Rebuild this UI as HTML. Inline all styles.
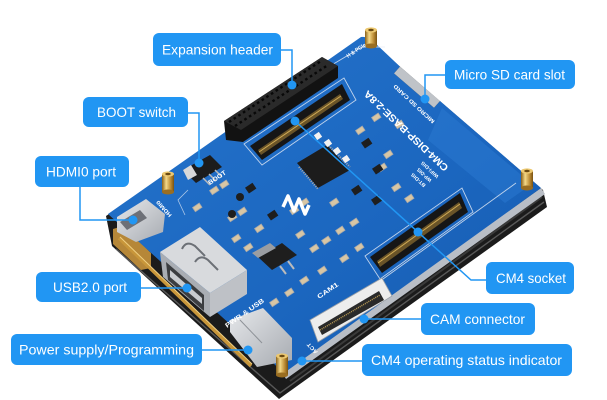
<!DOCTYPE html>
<html><head><meta charset="utf-8"><style>
html,body{margin:0;padding:0;background:#fff;}
svg{display:block;}
text{font-family:"Liberation Sans","DejaVu Sans",sans-serif;}
</style></head><body>
<svg width="607" height="400" viewBox="0 0 607 400" xmlns="http://www.w3.org/2000/svg">
<defs>
<linearGradient id="pcb" x1="0" y1="0" x2="1" y2="1">
<stop offset="0" stop-color="#2574cc"/>
<stop offset="0.6" stop-color="#1b66bf"/>
<stop offset="1" stop-color="#155aad"/>
</linearGradient>
<linearGradient id="gold" x1="0" y1="0" x2="1" y2="0">
<stop offset="0" stop-color="#8a6018"/><stop offset="0.35" stop-color="#f3d888"/><stop offset="0.7" stop-color="#c09038"/><stop offset="1" stop-color="#7a5210"/>
</linearGradient>
<linearGradient id="silv" x1="0" y1="0" x2="1" y2="1">
<stop offset="0" stop-color="#e6e8eb"/><stop offset="1" stop-color="#a7abb1"/>
</linearGradient>
</defs>
<rect width="607" height="400" fill="#fff"/>

<!-- display slab -->
<polygon points="106,216 112,246 279,399 547,207 543,190 368,39" fill="#1b1b1b"/>
<polyline points="116,249 280,393 544,202" fill="none" stroke="#585858" stroke-width="1.4"/>
<polyline points="290,381 542,197" fill="none" stroke="#3a3a3a" stroke-width="2"/>
<!-- gold flex + rod on left side -->
<polygon points="113,229 123,226 151,253 151,268 141,270 113,244" fill="#b68738"/>
<line x1="119" y1="238" x2="251" y2="366" stroke="#c8963a" stroke-width="3.5"/>
<line x1="120" y1="237" x2="252" y2="364" stroke="#f0cf80" stroke-width="1"/>

<!-- PCB edge (thickness) -->
<polygon points="541,188 545,194 286,379 282,372" fill="#b9bec6"/>
<!-- board -->
<path d="M361,37 Q368,36 374,42 L400,66.6 L394,73.4 L434,107.8 L440,101 L541,188 L284,373 L108,214 Z" fill="url(#pcb)"/>
<!-- SD notch metal -->
<polygon points="400,66.6 440,101 434,107.8 394,73.4" fill="#bfc3c8"/>
<!-- antenna area -->
<polygon points="442,108 532,184 505,203 428,140" fill="#2a78d0" opacity="0.55"/>

<!-- silkscreen lines -->
<polyline points="330,66 362,47 385,47" fill="none" stroke="#e8eef6" stroke-width="0.9" opacity="0.8"/>
<polyline points="516,183 383,279" fill="none" stroke="#e8eef6" stroke-width="0.9" opacity="0.8"/>
<polyline points="185,215 178,200 188,190" fill="none" stroke="#e8eef6" stroke-width="0.8" opacity="0.7"/>

<!-- header -->
<polygon points="224,121 322,57 338,66 338,78 243,142 226,140" fill="#121212"/>
<polygon points="224,121 322,57 338,66 241,130" fill="#2a2a2a"/>
<line x1="229" y1="122" x2="321" y2="61" stroke="#080808" stroke-width="2.4" stroke-dasharray="2.6 3"/>
<line x1="235" y1="126" x2="328" y2="65" stroke="#080808" stroke-width="2.4" stroke-dasharray="2.6 3"/>

<!-- socket 1 -->
<polygon points="244,144 344,78 356,100 262,165" fill="none" stroke="#e8eef6" stroke-width="0.9" opacity="0.8"/>
<polygon points="250,146 342,84 350,100 262,160" fill="#161616"/>
<polygon points="258,150 340,94 343,99 261,155" fill="#6a5428"/>
<line x1="259" y1="152" x2="341" y2="96" stroke="#d1ab55" stroke-width="1"/>

<!-- socket 2 -->
<polygon points="365,256 462,188 473,212 380,279" fill="none" stroke="#e8eef6" stroke-width="0.9" opacity="0.8"/>
<polygon points="370,257 460,193 468,212 382,273" fill="#161616"/>
<polygon points="377,261 459,202 462,208 380,267" fill="#6a5428"/>
<line x1="378" y1="263" x2="460" y2="204" stroke="#d1ab55" stroke-width="1"/>

<!-- CAM connector -->
<polygon points="310,320 382,278 392,296 318,342" fill="#ededed" stroke="#9aa0a8" stroke-width="0.8"/>
<polygon points="318,327 379,291 384,300 322,335" fill="#2a2a2a"/>
<line x1="320" y1="330" x2="380" y2="295" stroke="#b89a55" stroke-width="1.5" stroke-dasharray="1 1"/>

<!-- IC -->
<polygon points="297,163 327,145 350,170 318,188" fill="#1c1c1c"/>
<line x1="299" y1="167" x2="318" y2="189" stroke="#aaa" stroke-width="2" stroke-dasharray="1 1.3"/>
<line x1="327" y1="144" x2="350" y2="167" stroke="#aaa" stroke-width="2" stroke-dasharray="1 1.3"/>
<!-- white pads -->
<rect x="315" y="133" width="6" height="6" fill="#f2f2f2" transform="rotate(-34 318 136)"/>
<rect x="325" y="140" width="6" height="6" fill="#f2f2f2" transform="rotate(-34 328 143)"/>
<rect x="334" y="148" width="6" height="6" fill="#f2f2f2" transform="rotate(-34 337 151)"/>
<rect x="343" y="156" width="6" height="6" fill="#f2f2f2" transform="rotate(-34 346 159)"/>

<!-- regulator -->
<polygon points="258,257 282,243 297,255 272,270" fill="#1e1e1e"/>
<polygon points="252,253 270,243 276,248 258,258" fill="#9a9da2"/>
<line x1="280" y1="266" x2="286" y2="274" stroke="#bbb" stroke-width="2"/>
<line x1="288" y1="261" x2="294" y2="269" stroke="#bbb" stroke-width="2"/>

<!-- SMD components -->
<g fill="#d8c6a4" stroke="#a9a9a9" stroke-width="0.8">
<rect x="210" y="188" width="8" height="5" transform="rotate(-34 214 190)"/>
<rect x="220" y="182" width="8" height="5" transform="rotate(-34 224 184)"/>
<rect x="193" y="205" width="8" height="5" transform="rotate(-34 197 207)"/>
<rect x="228" y="215" width="8" height="5" transform="rotate(-34 232 217)"/>
<rect x="238" y="209" width="8" height="5" transform="rotate(-34 242 211)"/>
<rect x="255" y="226" width="8" height="5" transform="rotate(-34 259 228)"/>
<rect x="232" y="236" width="8" height="5" transform="rotate(-34 236 238)"/>
<rect x="244" y="245" width="8" height="5" transform="rotate(-34 248 247)"/>
<rect x="296" y="232" width="8" height="5" transform="rotate(-34 300 234)"/>
<rect x="310" y="246" width="8" height="5" transform="rotate(-34 314 248)"/>
<rect x="322" y="238" width="8" height="5" transform="rotate(-34 326 240)"/>
<rect x="336" y="228" width="8" height="5" transform="rotate(-34 340 230)"/>
<rect x="350" y="220" width="8" height="5" transform="rotate(-34 354 222)"/>
<rect x="340" y="256" width="8" height="5" transform="rotate(-34 344 258)"/>
<rect x="355" y="245" width="8" height="5" transform="rotate(-34 359 247)"/>
<rect x="330" y="200" width="8" height="5" transform="rotate(-34 334 202)"/>
<rect x="356" y="128" width="8" height="5" transform="rotate(-34 360 130)"/>
<rect x="372" y="115" width="8" height="5" transform="rotate(-34 376 117)"/>
<rect x="384" y="152" width="8" height="5" transform="rotate(-34 388 154)"/>
<rect x="378" y="165" width="8" height="5" transform="rotate(-34 382 167)"/>
<rect x="392" y="185" width="8" height="5" transform="rotate(-34 396 187)"/>
<rect x="405" y="196" width="8" height="5" transform="rotate(-34 409 198)"/>
<rect x="395" y="122" width="8" height="5" transform="rotate(-34 399 124)"/>
<rect x="285" y="290" width="8" height="5" transform="rotate(-34 289 292)"/>
<rect x="300" y="278" width="8" height="5" transform="rotate(-34 304 280)"/>
<rect x="270" y="300" width="8" height="5" transform="rotate(-34 274 302)"/>
<rect x="318" y="268" width="8" height="5" transform="rotate(-34 322 270)"/>
<rect x="290" y="208" width="8" height="5" transform="rotate(-34 294 210)"/>
<rect x="300" y="200" width="8" height="5" transform="rotate(-34 304 202)"/>
</g>
<g fill="#1e1e1e">
<rect x="362" y="140" width="9" height="7" transform="rotate(-34 366 143)"/>
<rect x="373" y="166" width="9" height="7" transform="rotate(-34 377 169)"/>
<rect x="246" y="185" width="9" height="7" transform="rotate(-34 250 188)"/>
<rect x="268" y="212" width="9" height="7" transform="rotate(-34 272 215)"/>
<rect x="352" y="187" width="9" height="7" transform="rotate(-34 356 190)"/>
<rect x="372" y="197" width="9" height="7" transform="rotate(-34 376 200)"/>
<circle cx="240" cy="197" r="4"/>
<circle cx="232" cy="214" r="4"/>
</g>

<!-- logo -->
<path d="M283,207 L288,196 L294,211 L299,199 L305,214 L309,205" fill="none" stroke="#fff" stroke-width="3.5" stroke-linejoin="round"/>

<!-- boot switch -->
<polygon points="183,170 210,155 222,167 196,183" fill="#1c1c1c"/>
<polygon points="183,170 191,165 197,175 188,180" fill="#d8d8d8"/>
<line x1="203" y1="178" x2="210" y2="185" stroke="#bbb" stroke-width="1.5"/>
<line x1="209" y1="174" x2="216" y2="181" stroke="#bbb" stroke-width="1.5"/>
<line x1="215" y1="170" x2="222" y2="177" stroke="#bbb" stroke-width="1.5"/>

<!-- HDMI port -->
<polygon points="117,217 146,199 165,214 163,232 136,242 117,232" fill="url(#silv)"/>
<polygon points="120,222 140,210 147,218 127,230" fill="#6d7077"/>

<!-- USB-A -->
<polygon points="160,252 200,227 247,270 210,293" fill="#d8dadd"/>
<polygon points="160,252 210,293 210,317 163,277" fill="#a9adb3"/>
<polygon points="166,262 204,295 204,311 168,280" fill="#3b3d40"/>
<polygon points="170,270 202,298 202,304 170,277" fill="#c9ccd0"/>
<polygon points="210,293 247,270 247,294 210,317" fill="#bec1c6"/>
<path d="M182,249 Q186,240 195,246 L205,256" fill="none" stroke="#6c7076" stroke-width="2"/>
<path d="M195,262 Q200,254 208,260 L218,270" fill="none" stroke="#6c7076" stroke-width="2"/>

<!-- USB-C -->
<polygon points="230,320 263,308 292,338 292,360 257,367 230,332" fill="url(#silv)"/>
<line x1="240" y1="320" x2="262" y2="343" stroke="#8d9197" stroke-width="1"/>

<!-- standoffs -->
<g>
<rect x="365" y="30" width="12" height="16" fill="url(#gold)"/><ellipse cx="371" cy="46" rx="6" ry="2.5" fill="#9a6e22"/><ellipse cx="371" cy="30" rx="6" ry="2.6" fill="#ecc870"/><ellipse cx="371" cy="30" rx="2.8" ry="1.3" fill="#6b4a12"/>
<rect x="521" y="171" width="12" height="17" fill="url(#gold)"/><ellipse cx="527" cy="188" rx="6" ry="2.5" fill="#9a6e22"/><ellipse cx="527" cy="171" rx="6" ry="2.6" fill="#ecc870"/><ellipse cx="527" cy="171" rx="2.8" ry="1.3" fill="#6b4a12"/>
<rect x="162" y="174" width="12" height="18" fill="url(#gold)"/><ellipse cx="168" cy="192" rx="6" ry="2.5" fill="#9a6e22"/><ellipse cx="168" cy="174" rx="6" ry="2.6" fill="#ecc870"/><ellipse cx="168" cy="174" rx="2.8" ry="1.3" fill="#6b4a12"/>
<rect x="276" y="356" width="12" height="19" fill="url(#gold)"/><ellipse cx="282" cy="375" rx="6" ry="2.5" fill="#9a6e22"/><ellipse cx="282" cy="356" rx="6" ry="2.6" fill="#ecc870"/><ellipse cx="282" cy="356" rx="2.8" ry="1.3" fill="#6b4a12"/>
</g>

<!-- PCB text -->
<g fill="#fff" font-weight="bold">
<text transform="translate(449,167) rotate(223.5)" font-size="10" textLength="112" lengthAdjust="spacingAndGlyphs">CM4-DISP-BASE-2.8A</text>
<text transform="translate(435,121) rotate(223)" font-size="5.5" textLength="54" lengthAdjust="spacingAndGlyphs">MICRO SD CARD</text>
<text transform="translate(426,185) rotate(223)" font-size="5" textLength="18" lengthAdjust="spacingAndGlyphs">BT-DIS</text>
<text transform="translate(432,180) rotate(223)" font-size="5" textLength="18" lengthAdjust="spacingAndGlyphs">WP-DIS</text>
<text transform="translate(439,176) rotate(223)" font-size="5" textLength="22" lengthAdjust="spacingAndGlyphs">WiFi-DIS</text>
<text transform="translate(348,58) rotate(-34)" font-size="5.5" textLength="22" lengthAdjust="spacingAndGlyphs">H &amp; PCIe</text>
<text transform="translate(210,185) rotate(-34)" font-size="6.5" textLength="20" lengthAdjust="spacingAndGlyphs">BOOT</text>
<text transform="translate(227,328) rotate(-35)" font-size="6.5" textLength="46" lengthAdjust="spacingAndGlyphs">PWR &amp; USB</text>
<text transform="translate(319,299) rotate(-34)" font-size="6.5" textLength="24" lengthAdjust="spacingAndGlyphs">CAM1</text>
<text transform="translate(172,215) rotate(228)" font-size="5.5" textLength="20" lengthAdjust="spacingAndGlyphs">HDMI0</text>
<text transform="translate(318,352) rotate(228)" font-size="5.5" textLength="13" lengthAdjust="spacingAndGlyphs">ACT</text>
</g>

<!-- connectors -->
<g fill="none" stroke="#2196f3" stroke-width="1.5">
<polyline points="281,50 292,50 292,85"/>
<polyline points="188,113 199,113 199,163"/>
<polyline points="80,187 80,220 133,220"/>
<polyline points="141,288 187,288"/>
<polyline points="202,350 248,350"/>
<polyline points="445,75 425,75 425,99"/>
<polyline points="486,280 471,280 295,121"/>
<polyline points="421,319 364,319"/>
<polyline points="362,361 302,361"/>
</g>
<g fill="#2196f3">
<circle cx="292" cy="85" r="4.5"/>
<circle cx="199" cy="163" r="4.5"/>
<circle cx="133" cy="220" r="4.5"/>
<circle cx="187" cy="288" r="4.5"/>
<circle cx="248" cy="350" r="4.5"/>
<circle cx="425" cy="99" r="4.5"/>
<circle cx="418" cy="232" r="4.5"/>
<circle cx="295" cy="121" r="4.5"/>
<circle cx="364" cy="319" r="4.5"/>
<circle cx="302" cy="361" r="4.5"/>
</g>

<!-- labels -->
<g fill="#2196f3">
<rect x="153" y="33" width="128" height="33" rx="6"/>
<rect x="83" y="97" width="105" height="30" rx="6"/>
<rect x="35" y="156" width="94" height="31" rx="6"/>
<rect x="36" y="272" width="105" height="30" rx="6"/>
<rect x="11" y="334" width="191" height="31" rx="6"/>
<rect x="445" y="60" width="130" height="29" rx="6"/>
<rect x="486" y="262" width="88" height="32" rx="6"/>
<rect x="421" y="303" width="114" height="32" rx="6"/>
<rect x="362" y="344" width="210" height="32" rx="6"/>
</g>
<g fill="#fff" font-size="14">
<text x="162" y="54.5" textLength="111" lengthAdjust="spacingAndGlyphs">Expansion header</text>
<text x="97" y="117" textLength="79" lengthAdjust="spacingAndGlyphs">BOOT switch</text>
<text x="46" y="176.5" textLength="70" lengthAdjust="spacingAndGlyphs">HDMI0 port</text>
<text x="53" y="292" textLength="74" lengthAdjust="spacingAndGlyphs">USB2.0 port</text>
<text x="19" y="354.5" textLength="175" lengthAdjust="spacingAndGlyphs">Power supply/Programming</text>
<text x="454" y="79.5" textLength="111" lengthAdjust="spacingAndGlyphs">Micro SD card slot</text>
<text x="496" y="283" textLength="70" lengthAdjust="spacingAndGlyphs">CM4 socket</text>
<text x="430" y="324" textLength="95" lengthAdjust="spacingAndGlyphs">CAM connector</text>
<text x="371" y="365" textLength="191" lengthAdjust="spacingAndGlyphs">CM4 operating status indicator</text>
</g>
</svg>
</body></html>
